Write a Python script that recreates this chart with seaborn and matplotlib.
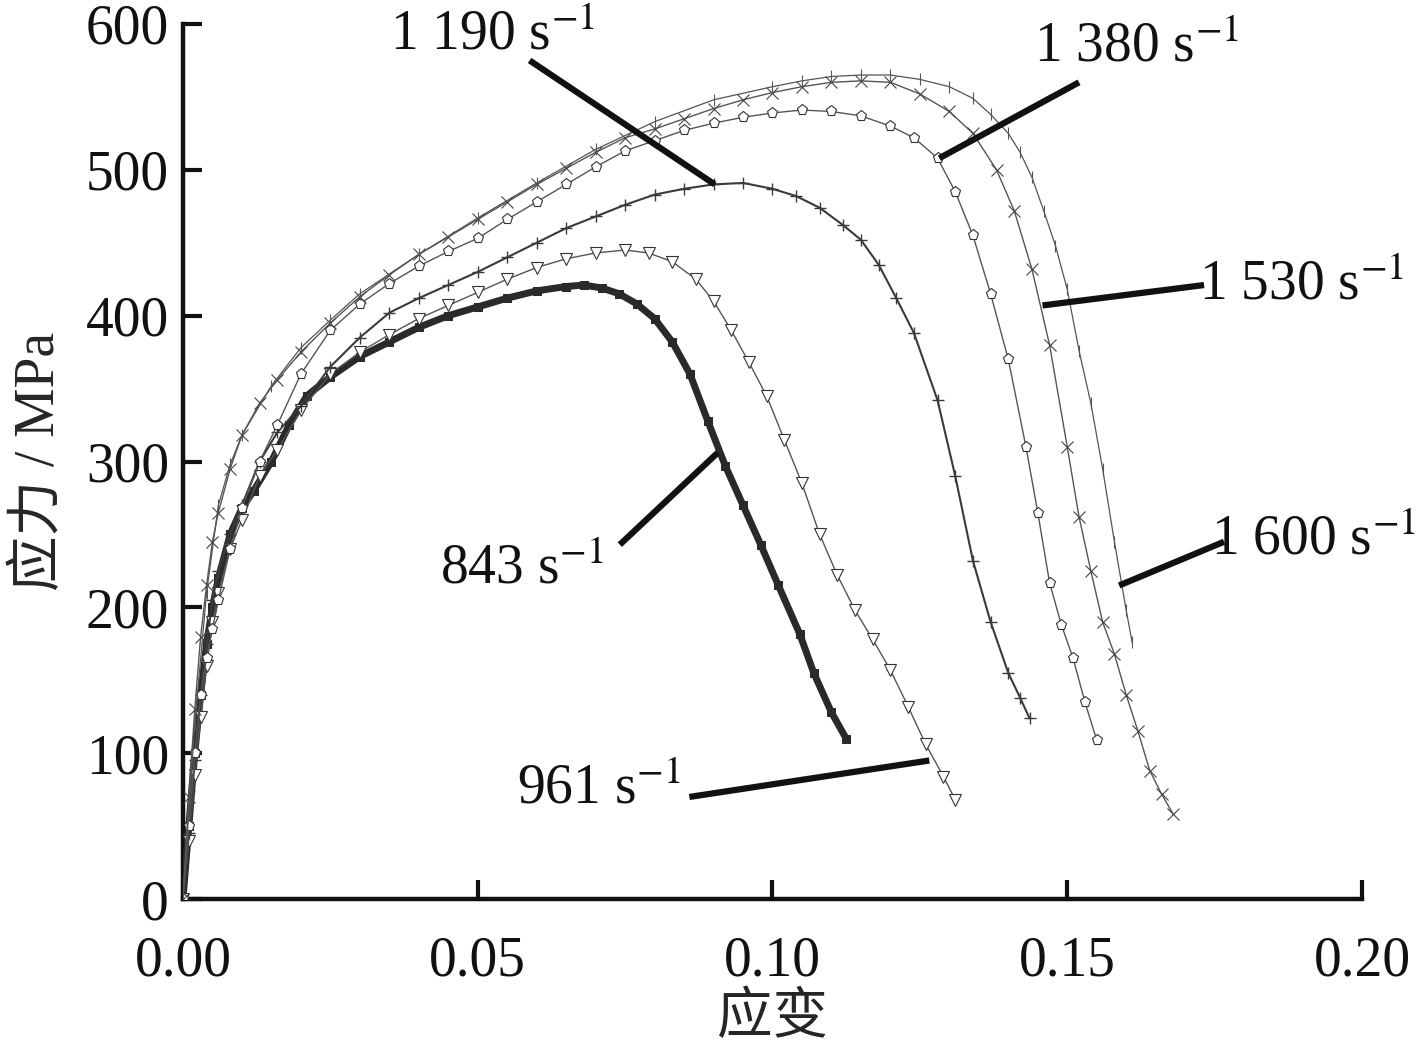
import matplotlib
matplotlib.use('Agg')
import matplotlib.pyplot as plt
import seaborn as sns

# strain / stress readings for each strain rate
x_843 = [0, 0.001, 0.002, 0.003, 0.004, 0.005, 0.006, 0.008, 0.010, 0.012, 0.015, 0.018, 0.021, 0.025,
         0.030, 0.035, 0.040, 0.045, 0.050, 0.055, 0.060, 0.065, 0.068, 0.071, 0.074, 0.077, 0.080,
         0.083, 0.086, 0.089, 0.092, 0.095, 0.098, 0.101, 0.1046, 0.107, 0.110, 0.1125]
y_843 = [0, 50, 100, 140, 175, 200, 220, 250, 268, 280, 300, 325, 345, 358,
         372, 382, 392, 400, 406, 412, 417, 420, 421, 419, 415, 408, 398,
         382, 360, 328, 297, 270, 243, 215, 182, 155, 128, 110]

x_961 = [0, 0.001, 0.002, 0.003, 0.004, 0.005, 0.006, 0.008, 0.010, 0.013, 0.016, 0.020, 0.025, 0.030,
         0.035, 0.040, 0.045, 0.050, 0.055, 0.060, 0.065, 0.070, 0.075, 0.079, 0.083, 0.087, 0.090,
         0.093, 0.096, 0.099, 0.102, 0.105, 0.108, 0.111, 0.114, 0.117, 0.120, 0.123, 0.126, 0.129, 0.131]
y_961 = [0, 40, 85, 125, 160, 190, 210, 240, 260, 290, 308, 335, 360, 375,
         387, 398, 407, 416, 425, 433, 439, 443, 445, 443, 437, 425, 410,
         390, 368, 345, 315, 285, 250, 222, 198, 178, 157, 132, 106, 84, 68]

x_1190 = [0, 0.001, 0.002, 0.003, 0.004, 0.005, 0.006, 0.008, 0.010, 0.013, 0.016, 0.020, 0.025, 0.030,
          0.035, 0.040, 0.045, 0.050, 0.055, 0.060, 0.065, 0.070, 0.075, 0.080, 0.085, 0.090, 0.095,
          0.100, 0.104, 0.108, 0.112, 0.115, 0.118, 0.121, 0.124, 0.128, 0.131, 0.134, 0.137, 0.140,
          0.142, 0.1436]
y_1190 = [0, 45, 95, 140, 175, 205, 225, 250, 270, 300, 320, 338, 365, 385,
          402, 412, 421, 430, 440, 450, 460, 468, 476, 483, 487, 490, 491,
          487, 482, 474, 462, 452, 435, 412, 388, 342, 290, 232, 190, 155,
          138, 124]

x_1380 = [0, 0.001, 0.002, 0.003, 0.004, 0.005, 0.006, 0.008, 0.010, 0.013, 0.016, 0.020, 0.025, 0.030,
          0.035, 0.040, 0.045, 0.050, 0.055, 0.060, 0.065, 0.070, 0.075, 0.080, 0.085, 0.090, 0.095,
          0.100, 0.105, 0.110, 0.115, 0.120, 0.124, 0.128, 0.131, 0.134, 0.137, 0.140, 0.143, 0.145,
          0.147, 0.149, 0.151, 0.153, 0.155]
y_1380 = [0, 50, 100, 140, 165, 185, 205, 240, 268, 300, 325, 360, 390, 408,
          422, 434, 444, 453, 466, 478, 490, 502, 513, 520, 527, 532, 536,
          539, 541, 540, 537, 530, 522, 508, 485, 455, 415, 370, 310, 265,
          217, 188, 165, 135, 109]

x_1530 = [0, 0.001, 0.002, 0.003, 0.004, 0.005, 0.006, 0.008, 0.010, 0.013, 0.016, 0.020, 0.025, 0.030,
          0.035, 0.040, 0.045, 0.050, 0.055, 0.060, 0.065, 0.070, 0.075, 0.080, 0.085, 0.090, 0.095,
          0.100, 0.105, 0.110, 0.115, 0.120, 0.125, 0.130, 0.134, 0.138, 0.141, 0.144, 0.147, 0.150,
          0.152, 0.154, 0.156, 0.158, 0.160, 0.162, 0.164, 0.166, 0.168]
y_1530 = [0, 70, 130, 180, 215, 245, 265, 295, 318, 340, 356, 375, 395, 413,
          428, 442, 454, 466, 478, 490, 501, 512, 522, 528, 535, 542, 548,
          553, 557, 560, 561, 560, 552, 540, 525, 500, 472, 432, 380, 310,
          262, 225, 190, 168, 140, 115, 88, 72, 58]

x_1600 = [0, 0.002, 0.004, 0.006, 0.008, 0.010, 0.015, 0.020, 0.025, 0.030, 0.040, 0.050, 0.060,
          0.070, 0.080, 0.090, 0.100, 0.105, 0.110, 0.115, 0.120, 0.125, 0.130, 0.134, 0.137, 0.140,
          0.142, 0.144, 0.146, 0.148, 0.150, 0.152, 0.154, 0.156, 0.158, 0.160, 0.161]
y_1600 = [0, 120, 210, 270, 298, 318, 352, 378, 397, 415, 442, 467, 491,
          514, 533, 548, 557, 561, 564, 565, 565, 562, 557, 549, 538, 525,
          512, 495, 472, 448, 418, 376, 340, 295, 245, 198, 176]

rate_labels = ['843 s$^{-1}$', '961 s$^{-1}$', '1 190 s$^{-1}$',
               '1 380 s$^{-1}$', '1 530 s$^{-1}$', '1 600 s$^{-1}$']

x_ticks = [0.00, 0.05, 0.10, 0.15, 0.20]
y_ticks = [0, 100, 200, 300, 400, 500, 600]

sns.set_style('ticks')
plt.rcParams['font.family'] = ['Liberation Serif', 'Noto Sans CJK SC']
plt.rcParams['mathtext.fontset'] = 'stix'

fig = plt.figure(figsize=(14.25, 10.52), dpi=100)
ax = fig.add_axes([0.1284, 0.1454, 0.8274, 0.8318])

series = [
    (x_843, y_843, dict(marker='s', ms=5.5, color='#2a2a2a', lw=5, mfc='#2a2a2a', mec='#2a2a2a')),
    (x_961, y_961, dict(marker='v', ms=8, color='#555555', lw=1.0, mfc='white', mec='#333333', mew=0.8)),
    (x_1190, y_1190, dict(marker='+', ms=9, color='#3a3a3a', lw=1.5, mec='#3a3a3a', mew=1.0)),
    (x_1380, y_1380, dict(marker='p', ms=8, color='#555555', lw=1.0, mfc='white', mec='#333333', mew=0.8)),
    (x_1530, y_1530, dict(marker='x', ms=8, color='#555555', lw=1.0, mec='#444444', mew=0.8)),
    (x_1600, y_1600, dict(marker='|', ms=9, color='#555555', lw=0.9, mec='#555555', mew=0.8)),
]
for xs, ys, kw in series:
    sns.lineplot(x=xs, y=ys, ax=ax, sort=False, estimator=None, zorder=3, **kw)

ax.set_xlim(0, 0.20)
ax.set_ylim(0, 600)
ax.set_xticks(x_ticks)
ax.set_yticks(y_ticks)
ax.set_xticklabels([f'{v:.2f}' for v in x_ticks])
ax.tick_params(direction='in', length=14, width=3, labelsize=40, colors='#111111')
ax.tick_params(axis='x', pad=26)
ax.tick_params(axis='y', pad=10)
sns.despine(ax=ax)
for side in ['left', 'bottom']:
    ax.spines[side].set_linewidth(3.2)
    ax.spines[side].set_color('#111111')

ax.set_xlabel('应变', fontsize=40, labelpad=4)
ax.set_ylabel('应力 / MPa', fontsize=40, labelpad=14)

# labels with leader lines (text position, line start, line end)
notes = [
    (rate_labels[0], (0.0575, 226), (0.0741, 243), (0.0907, 306)),
    (rate_labels[1], (0.0706, 75), (0.0859, 70), (0.1266, 95)),
    (rate_labels[2], (0.0525, 592), (0.0588, 575), (0.0902, 490)),
    (rate_labels[3], (0.1618, 584), (0.1520, 560), (0.1283, 508)),
    (rate_labels[4], (0.1898, 421), (0.1732, 421), (0.1458, 407)),
    (rate_labels[5], (0.1918, 246), (0.1766, 245), (0.1588, 215)),
]
for text, tpos, p0, p1 in notes:
    ax.text(tpos[0], tpos[1], text, fontsize=40, ha='center', va='center',
            color='#111111', zorder=5, clip_on=False)
    ax.plot([p0[0], p1[0]], [p0[1], p1[1]], color='#111111', lw=4.5,
            solid_capstyle='butt', zorder=4, clip_on=False)

plt.savefig('out.png', dpi=100)
